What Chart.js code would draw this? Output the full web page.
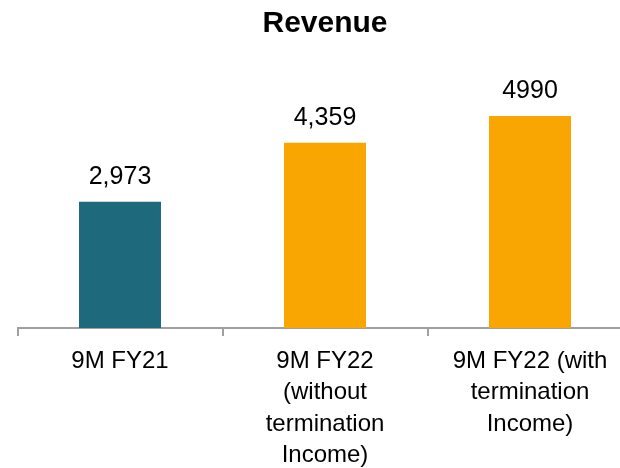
<!DOCTYPE html>
<html>
<head>
<meta charset="utf-8">
<script src="https://cdn.jsdelivr.net/npm/chart.js@4/dist/chart.umd.min.js"></script>
<style>
  html, body { margin: 0; padding: 0; background: #ffffff; overflow: hidden; width: 620px; height: 468px; }
  canvas { display: block; }
</style>
</head>
<body>
<canvas id="c" width="640" height="468" style="width:640px;height:468px"></canvas>
<script>
const categories = [
  ['9M FY21'],
  ['9M FY22', '(without', 'termination', 'Income)'],
  ['9M FY22 (with', 'termination', 'Income)']
];
const revenue = [2973, 4359, 4990];
const valueLabels = ['2,973', '4,359', '4990'];
const barColors = ['#1F697D', '#F9A502', '#F9A502'];

const FONT = '"Liberation Sans", Arial, Helvetica, sans-serif';

const valueLabelPlugin = {
  id: 'valueLabels',
  afterDatasetsDraw(chart) {
    const ctx = chart.ctx;
    const meta = chart.getDatasetMeta(0);
    ctx.save();
    ctx.font = '25px ' + FONT;
    ctx.fillStyle = '#000000';
    ctx.textAlign = 'center';
    ctx.textBaseline = 'alphabetic';
    meta.data.forEach((bar, i) => {
      ctx.fillText(valueLabels[i], bar.x, bar.y - 18);
    });
    ctx.restore();
  }
};

new Chart(document.getElementById('c'), {
  type: 'bar',
  data: {
    labels: categories,
    datasets: [{
      data: revenue,
      backgroundColor: barColors,
      borderWidth: 0,
      barPercentage: 0.4,
      categoryPercentage: 1.0
    }]
  },
  options: {
    responsive: false,
    animation: false,
    layout: { padding: { left: 17.5, right: 7.5, top: 0, bottom: 0 } },
    plugins: {
      legend: { display: false },
      tooltip: { enabled: false },
      title: {
        display: true,
        text: 'Revenue',
        color: '#000000',
        font: { family: FONT, size: 30, weight: 'bold', lineHeight: 1.2 },
        padding: { top: 6, bottom: 31 }
      }
    },
    scales: {
      y: {
        display: false,
        min: 0,
        max: 6000
      },
      x: {
        grid: {
          display: true,
          offset: true,
          drawOnChartArea: false,
          drawTicks: true,
          tickLength: 8,
          color: '#A0A0A0',
          lineWidth: 2
        },
        border: { display: true, color: '#A0A0A0', width: 2 },
        ticks: {
          color: '#000000',
          font: { family: FONT, size: 24, lineHeight: 1.3 },
          padding: 10,
          maxRotation: 0,
          minRotation: 0,
          autoSkip: false
        },
        afterFit(scale) { scale.height = 140; }
      }
    }
  },
  plugins: [valueLabelPlugin]
});
</script>
</body>
</html>
